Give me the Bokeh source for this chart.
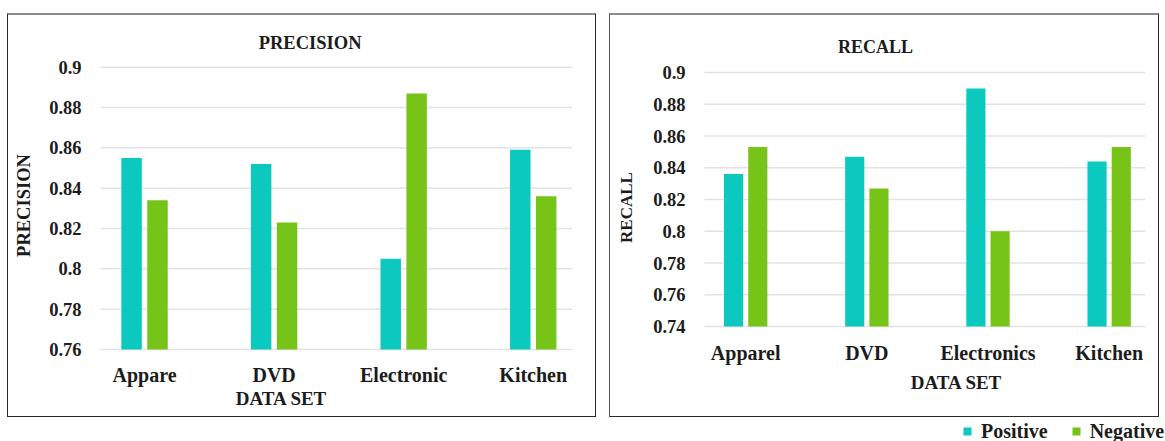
import math
from bokeh.plotting import figure
from bokeh.models import ColumnDataSource, Range1d, Legend, LegendItem, Spacer
from bokeh.core.properties import value
from bokeh.layouts import row, column
from bokeh.transform import dodge
from bokeh.embed import file_html
from bokeh.resources import INLINE

# ---- data ----
precision_categories = ["Appare", "DVD", "Electronic", "Kitchen"]
recall_categories = ["Apparel", "DVD", "Electronics", "Kitchen"]
precision_positive = [0.855, 0.852, 0.805, 0.859]
precision_negative = [0.834, 0.823, 0.887, 0.836]
recall_positive = [0.836, 0.847, 0.890, 0.844]
recall_negative = [0.853, 0.827, 0.800, 0.853]
precision_ticks = [0.76, 0.78, 0.80, 0.82, 0.84, 0.86, 0.88, 0.90]
precision_tick_labels = ["0.76", "0.78", "0.8", "0.82", "0.84", "0.86", "0.88", "0.9"]
recall_ticks = [0.74, 0.76, 0.78, 0.80, 0.82, 0.84, 0.86, 0.88, 0.90]
recall_tick_labels = ["0.74", "0.76", "0.78", "0.8", "0.82", "0.84", "0.86", "0.88", "0.9"]
series_names = ["Positive", "Negative"]
x_axis_title = "DATA SET"

FONT = "Liberation Serif"
TXT = "#1c1c1c"
TEAL = "#0BC9BF"
GREEN = "#76C418"
GRID = "#e2e2e2"
X_START, X_END = -0.34, 3.30   # category axis extent (category i sits at i)


def text_props(size, **kw):
    d = dict(text_font=value(FONT), text_font_style=value("bold"),
             text_font_size=value(size), text_color=TXT)
    d.update(kw)
    return d


def panel(cats, pos, neg, ticks, tick_labels, title, ylabel, W, H, frame, cfg):
    # frame = plot-area edges in canvas pixels (left, right, top, bottom)
    fl, fr, ft, fb = frame
    kx = (fr - fl) / (X_END - X_START)
    ky = (fb - ft) / (ticks[-1] - ticks[0])

    def x_at(px):
        return X_START + (px - fl) / kx

    def y_at(py):
        return ticks[0] + (fb - py) / ky

    p = figure(width=W, height=H, output_backend="svg", toolbar_location=None,
               x_axis_type=None, y_axis_type=None, min_border=0,
               x_range=Range1d(x_at(0), x_at(W)), y_range=Range1d(y_at(H), y_at(0)))
    if hasattr(p, "frame_align"):
        p.frame_align = False
    p.outline_line_color = None
    p.background_fill_color = "white"
    p.border_fill_color = "white"

    n = len(cats)
    src = ColumnDataSource(dict(idx=list(range(n)), pos=pos, neg=neg))
    ysrc = ColumnDataSource(dict(tick=ticks))

    # horizontal gridlines
    p.segment(x0=X_START, x1=X_END, y0="tick", y1="tick", source=ysrc,
              line_color=GRID, line_width=1.5)
    # bars
    p.vbar(x=dodge("idx", -0.1, range=p.x_range), top="pos", bottom=ticks[0], width=0.158,
           source=src, fill_color=TEAL, line_color=None)
    p.vbar(x=dodge("idx", 0.1, range=p.x_range), top="neg", bottom=ticks[0], width=0.158,
           source=src, fill_color=GREEN, line_color=None)

    # category labels (one text glyph per label)
    lab_y = y_at(cfg["xlab_y"])
    for i, c in enumerate(cats):
        p.text(x=[i], y=[lab_y], text=[c],
               **text_props("20px", text_align="center", text_baseline="middle"))
    # value tick labels
    lab_x = x_at(cfg["ytick_x"])
    for t, lab in zip(ticks, tick_labels):
        p.text(x=[lab_x], y=[t], text=[lab],
               **text_props("18.5px", text_align="right", text_baseline="middle"))
    # chart title
    tx, ty = cfg["title"]
    p.text(x=[x_at(tx)], y=[y_at(ty)], text=[title],
           **text_props(cfg["title_size"], text_align="center", text_baseline="middle"))
    # y axis title
    lx, ly = cfg["ylab"]
    p.text(x=[x_at(lx)], y=[y_at(ly)], text=[ylabel], angle=math.pi / 2,
           **text_props(cfg["ylab_size"], text_align="center", text_baseline="middle"))
    # x axis title
    dx, dy = cfg["xtitle"]
    p.text(x=[x_at(dx)], y=[y_at(dy)], text=[x_axis_title],
           **text_props("19px", text_align="center", text_baseline="middle"))
    return src, p


src1, p1 = panel(precision_categories, precision_positive, precision_negative, precision_ticks,
                 precision_tick_labels, "PRECISION", "PRECISION", 589, 404,
                 (92, 563.6, 51.7, 334),
                 dict(title=(301.6, 27), title_size="18.5px", ylab=(15, 190), ylab_size="18.5px",
                      xlab_y=359, ytick_x=73, xtitle=(273, 383)))
src2, p2 = panel(recall_categories, recall_positive, recall_negative, recall_ticks,
                 recall_tick_labels, "RECALL", "RECALL", 550, 404,
                 (94, 535, 57, 311),
                 dict(title=(265, 31), title_size="18px", ylab=(16, 192), ylab_size="17px",
                      xlab_y=337, ytick_x=75, xtitle=(346, 367)))

p1.styles = {"border-left": "1px solid #2a2a2a", "border-right": "1px solid #2a2a2a",
             "border-bottom": "1px solid #2a2a2a", "border-top": "2px solid #8c8c8c"}
p2.styles = {"border-left": "1px solid #555555", "border-right": "1px solid #2a2a2a",
             "border-bottom": "1px solid #2a2a2a", "border-top": "2px solid #8c8c8c"}

# legend strip (swatches come from the recall data, drawn out of view)
lg = figure(width=1165, height=21, output_backend="svg", toolbar_location=None,
            x_axis_type=None, y_axis_type=None, min_border=0,
            x_range=Range1d(0, 1), y_range=Range1d(5, 6))
lg.outline_line_color = None
lg.grid.visible = False
r1 = lg.vbar(x="idx", top="pos", width=0.1, source=src2, fill_color=TEAL, line_color=None)
r2 = lg.vbar(x="idx", top="neg", width=0.1, source=src2, fill_color=GREEN, line_color=None)
legend = Legend(items=[LegendItem(label=series_names[0], renderers=[r1]),
                       LegendItem(label=series_names[1], renderers=[r2])],
                orientation="horizontal", location=(962, -1.5),
                glyph_width=10, glyph_height=10, label_standoff=9, spacing=23,
                padding=0, margin=0, border_line_color=None, background_fill_alpha=0,
                label_text_font=FONT, label_text_font_style="bold",
                label_text_font_size="20px", label_text_color=TXT)
lg.add_layout(legend)

layout = column(
    Spacer(width=1165, height=13),
    row(Spacer(width=7, height=407), p1, Spacer(width=13, height=407), p2),
    lg,
    spacing=0,
)

open("out.html", "w").write(file_html(layout, INLINE))
